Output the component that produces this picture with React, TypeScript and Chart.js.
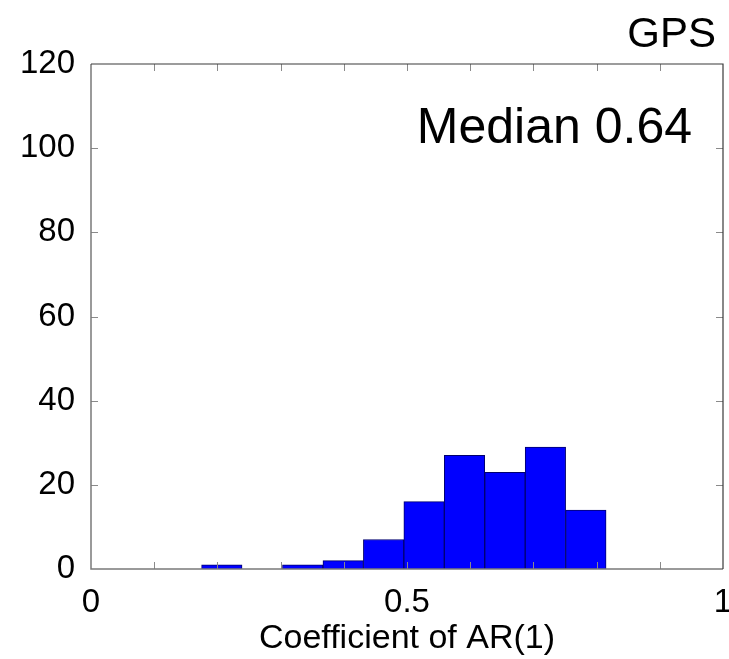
import React, { useEffect, useRef } from "react";
import { Chart, registerables } from "chart.js";

Chart.register(...registerables);

// Histogram data
const binCenters = [0.207, 0.271, 0.335, 0.399, 0.463, 0.527, 0.591, 0.655, 0.719, 0.783];
const counts = [1, 0, 1, 2, 7, 16, 27, 23, 29, 14];

const xTickValues = [0, 0.1, 0.2, 0.3, 0.4, 0.5, 0.6, 0.7, 0.8, 0.9, 1];
const xLabelled = [0, 0.5, 1];
const yTickValues = [0, 20, 40, 60, 80, 100, 120];

const titleText = "GPS";
const medianText = "Median 0.64";
const xAxisTitle = "Coefficient of AR(1)";

const FONT = "'Liberation Sans', Arial, Helvetica, sans-serif";

const boxPlugin = {
  id: "matlabBox",
  afterDraw(chart: any) {
    const { ctx, chartArea, scales } = chart;
    const { left, right, top, bottom } = chartArea;
    const xs = scales.x;
    const ys = scales.y;
    ctx.save();
    // inward tick marks
    ctx.strokeStyle = "#8a8a8a";
    ctx.lineWidth = 1;
    const tl = 7;
    xTickValues.forEach((v) => {
      if (v === 0 || v === 1) return;
      const px = Math.round(xs.getPixelForValue(v)) + 0.5;
      ctx.beginPath();
      ctx.moveTo(px, bottom);
      ctx.lineTo(px, bottom - tl);
      ctx.moveTo(px, top);
      ctx.lineTo(px, top + tl);
      ctx.stroke();
    });
    yTickValues.forEach((v) => {
      if (v === 0 || v === 120) return;
      const py = Math.round(ys.getPixelForValue(v)) + 0.5;
      ctx.beginPath();
      ctx.moveTo(left, py);
      ctx.lineTo(left + tl, py);
      ctx.moveTo(right, py);
      ctx.lineTo(right - tl, py);
      ctx.stroke();
    });
    // box: top/right darker, left/bottom gray
    ctx.lineWidth = 1.5;
    ctx.strokeStyle = "#7a7a7a";
    ctx.beginPath();
    ctx.moveTo(left, top);
    ctx.lineTo(left, bottom);
    ctx.lineTo(right, bottom);
    ctx.stroke();
    ctx.lineWidth = 1.2;
    ctx.strokeStyle = "#3a3a3a";
    ctx.beginPath();
    ctx.moveTo(left, top);
    ctx.lineTo(right, top);
    ctx.lineTo(right, bottom);
    ctx.stroke();
    // texts
    ctx.fillStyle = "#000";
    ctx.textAlign = "right";
    ctx.textBaseline = "alphabetic";
    ctx.font = `50px ${FONT}`;
    ctx.fillText(medianText, right - 31, 143);
    ctx.font = `42px ${FONT}`;
    ctx.fillText(titleText, right - 7, 47);
    ctx.restore();
  },
};

export default function App() {
  const ref = useRef<HTMLCanvasElement | null>(null);
  useEffect(() => {
    if (!ref.current) return;
    const chart = new Chart(ref.current, {
      type: "bar",
      data: {
        datasets: [
          {
            data: binCenters.map((x, i) => ({ x, y: counts[i] })),
            backgroundColor: "#0000ff",
            borderColor: "#00006e",
            borderWidth: 1,
            barPercentage: 1,
            categoryPercentage: 1,
          },
        ],
      },
      options: {
        animation: false,
        responsive: false,
        maintainAspectRatio: false,
        layout: { padding: { top: 64, right: 6, bottom: 0, left: 0 } },
        plugins: {
          legend: { display: false },
          tooltip: { enabled: false },
          title: { display: false },
        },
        scales: {
          x: {
            type: "linear",
            min: 0,
            max: 1,
            offset: false,
            grid: { display: false, drawTicks: false, offset: false },
            border: { display: false },
            afterBuildTicks: (s: any) => {
              s.ticks = xTickValues.map((v) => ({ value: v }));
            },
            ticks: {
              autoSkip: false,
              maxRotation: 0,
              minRotation: 0,
              padding: 14,
              color: "#000",
              font: { family: FONT, size: 33 },
              callback: (v: any) => {
                const n = Number(v);
                return xLabelled.some((l) => Math.abs(l - n) < 1e-9) ? String(n) : "";
              },
            },
            title: {
              display: true,
              text: xAxisTitle,
              color: "#000",
              font: { family: FONT, size: 34 },
              padding: 0,
            },
            afterFit: (s: any) => {
              s.height = 90;
              s.paddingLeft = 0;
              s.paddingRight = 0;
            },
          },
          y: {
            min: 0,
            max: 120,
            grid: { display: false, drawTicks: false },
            border: { display: false },
            afterBuildTicks: (s: any) => {
              s.ticks = yTickValues.map((v) => ({ value: v }));
            },
            ticks: {
              padding: 16,
              color: "#000",
              font: { family: FONT, size: 33 },
            },
            afterFit: (s: any) => {
              s.width = 91;
              s.paddingTop = 0;
              s.paddingBottom = 0;
            },
          },
        },
      },
      plugins: [boxPlugin],
    });
    return () => chart.destroy();
  }, []);
  return (
    <div style={{ position: "absolute", left: 0, top: 0, width: 729, height: 659, background: "#fff" }}>
      <canvas ref={ref} width={729} height={659} style={{ display: "block", width: 729, height: 659 }} />
    </div>
  );
}
